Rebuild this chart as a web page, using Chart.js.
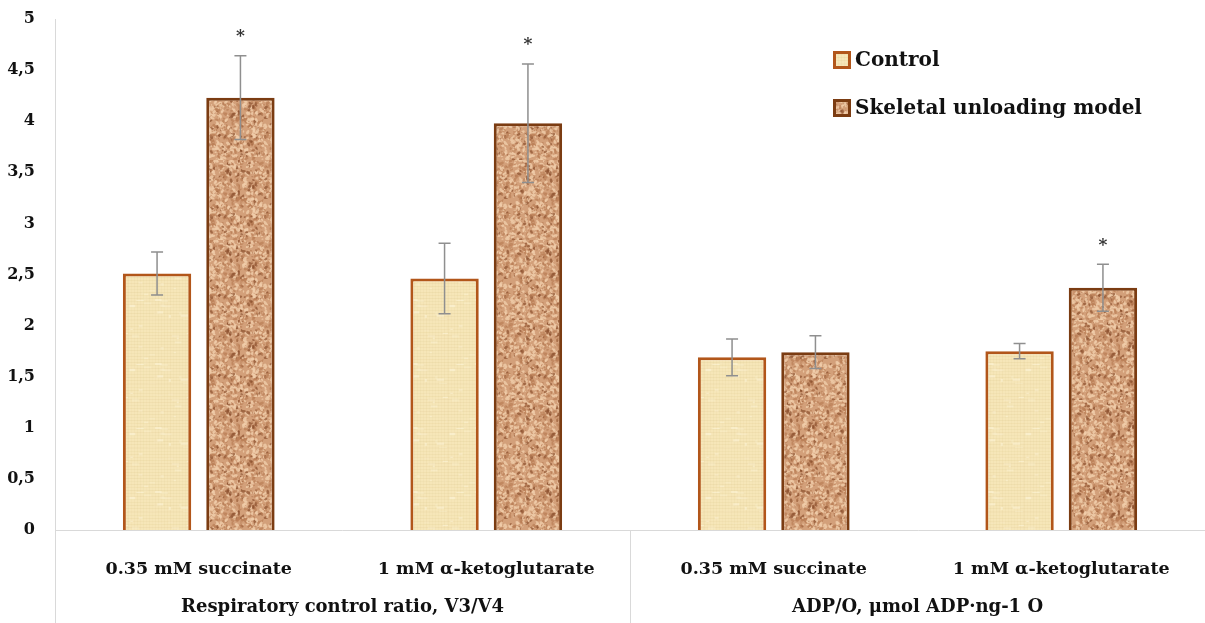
<!DOCTYPE html>
<html>
<head>
<meta charset="utf-8">
<script src="https://cdn.jsdelivr.net/npm/chart.js@4.4.0/dist/chart.umd.min.js"></script>
<style>
html, body { margin: 0; padding: 0; background: #fff; }
#wrap { width: 1205px; height: 623px; position: relative; }
</style>
</head>
<body>
<div id="wrap"><canvas id="myChart"></canvas></div>
<script>
'use strict';

var categories = ['0.35 mM succinate', '1 mM α-ketoglutarate', '0.35 mM succinate', '1 mM α-ketoglutarate'];
var groupNames = ['Respiratory control ratio, V3/V4', 'ADP/O, μmol ADP·ng-1 O'];
var seriesNames = ['Control', 'Skeletal unloading model'];
var controlValues = [2.51, 2.46, 1.69, 1.75];
var controlErrors = [0.21, 0.345, 0.18, 0.075];
var unloadingValues = [4.23, 3.98, 1.74, 2.37];
var unloadingErrors = [0.41, 0.58, 0.16, 0.23];
var unloadingSignificant = [true, true, false, true];
var yMax = 5;
var yStep = 0.5;

var FONT = '"DejaVu Serif", "Liberation Serif", serif';

(function () {

    // small seeded generator, only used for the bar textures
    function makeRand(seed) {
        var s = seed;
        return function () {
            s = (s * 16807) % 2147483647;
            return (s - 1) / 2147483646;
        };
    }

    function papyrusPattern() {
        var c = document.createElement('canvas');
        c.width = 64; c.height = 64;
        var g = c.getContext('2d');
        var rnd = makeRand(7);
        var i;
        g.fillStyle = '#f6e6b8';
        g.fillRect(0, 0, 64, 64);
        for (i = 0; i < 64; i += 3) {
            g.fillStyle = 'rgba(205,178,110,' + (0.06 + rnd() * 0.08) + ')';
            g.fillRect(0, i, 64, 1);
            g.fillStyle = 'rgba(210,185,120,' + (0.04 + rnd() * 0.06) + ')';
            g.fillRect(i, 0, 1, 64);
        }
        for (i = 0; i < 40; i++) {
            g.fillStyle = 'rgba(255,248,225,' + (rnd() * 0.5) + ')';
            g.fillRect(rnd() * 64, rnd() * 64, 2 + rnd() * 6, 1 + rnd() * 2);
        }
        return g.createPattern(c, 'repeat');
    }

    function corkPattern() {
        var c = document.createElement('canvas');
        c.width = 80; c.height = 80;
        var g = c.getContext('2d');
        var rnd = makeRand(13);
        var i, x, y, r, t;
        g.fillStyle = '#d3a07a';
        g.fillRect(0, 0, 80, 80);
        for (i = 0; i < 1100; i++) {
            x = rnd() * 80; y = rnd() * 80; r = 0.4 + rnd() * 1.1;
            t = rnd();
            if (t < 0.5) {
                g.fillStyle = 'rgba(240,205,170,0.8)';
            } else if (t < 0.85) {
                g.fillStyle = 'rgba(185,125,85,0.7)';
            } else {
                g.fillStyle = 'rgba(140,80,45,0.7)';
            }
            g.beginPath();
            g.ellipse(x, y, r * 1.7, r, rnd() * 3.14, 0, Math.PI * 2);
            g.fill();
        }
        return g.createPattern(c, 'repeat');
    }

    var errorBarsPlugin = {
        id: 'errorBars',
        afterDatasetsDraw: function (chart) {
            var ctx = chart.ctx;
            var yScale = chart.scales.y;
            var errs = [controlErrors, unloadingErrors];
            var vals = [controlValues, unloadingValues];
            var d, i, bar, top, bottom;
            ctx.save();
            ctx.strokeStyle = '#8f8f8f';
            ctx.lineWidth = 1.5;
            for (d = 0; d < 2; d++) {
                var meta = chart.getDatasetMeta(d);
                for (i = 0; i < meta.data.length; i++) {
                    bar = meta.data[i];
                    top = yScale.getPixelForValue(vals[d][i] + errs[d][i]);
                    bottom = yScale.getPixelForValue(vals[d][i] - errs[d][i]);
                    ctx.beginPath();
                    ctx.moveTo(bar.x, top); ctx.lineTo(bar.x, bottom);
                    ctx.moveTo(bar.x - 6, top); ctx.lineTo(bar.x + 6, top);
                    ctx.moveTo(bar.x - 6, bottom); ctx.lineTo(bar.x + 6, bottom);
                    ctx.stroke();
                    if (d === 1 && unloadingSignificant[i]) {
                        ctx.fillStyle = '#333';
                        ctx.font = 'bold 17px ' + FONT;
                        ctx.textAlign = 'center';
                        ctx.textBaseline = 'middle';
                        ctx.fillText('*', bar.x, top - 19);
                    }
                }
            }
            ctx.restore();
        }
    };

    var axisDecorPlugin = {
        id: 'axisDecor',
        afterDraw: function (chart) {
            var ctx = chart.ctx;
            var area = chart.chartArea;
            var xScale = chart.scales.x;
            var h = chart.height;
            var g, left, right;
            ctx.save();
            ctx.strokeStyle = '#d9d9d9';
            ctx.lineWidth = 1;
            ctx.beginPath();
            ctx.moveTo(area.left + 0.5, area.bottom);
            ctx.lineTo(area.left + 0.5, h);
            var mid = (xScale.getPixelForValue(1) + xScale.getPixelForValue(2)) / 2;
            ctx.moveTo(Math.round(mid) + 0.5, area.bottom);
            ctx.lineTo(Math.round(mid) + 0.5, h);
            ctx.stroke();

            ctx.fillStyle = '#111';
            ctx.font = 'bold 18px ' + FONT;
            ctx.textAlign = 'center';
            ctx.textBaseline = 'middle';
            for (g = 0; g < groupNames.length; g++) {
                left = xScale.getPixelForValue(g * 2);
                right = xScale.getPixelForValue(g * 2 + 1);
                ctx.fillText(groupNames[g], (left + right) / 2, 607);
            }

            // legend
            var items = chart.data.datasets;
            var ly = [60, 108];
            for (g = 0; g < items.length; g++) {
                ctx.fillStyle = items[g].backgroundColor;
                ctx.fillRect(833, ly[g] - 9, 18, 18);
                ctx.strokeStyle = items[g].borderColor;
                ctx.lineWidth = 3;
                ctx.strokeRect(834.5, ly[g] - 7.5, 15, 15);
                ctx.fillStyle = '#111';
                ctx.textAlign = 'left';
                ctx.font = 'bold 20px ' + FONT;
                ctx.fillText(items[g].label, 855, ly[g] + 1);
            }
            ctx.restore();
        }
    };

    function yTickLabel(value) {
        return String(value).replace('.', ',');
    }

    function drawChart() {
        var ctx = document.getElementById('myChart');

        new Chart(ctx, {
            type: 'bar',
            data: {
                labels: categories,
                datasets: [{
                    label: seriesNames[0],
                    data: controlValues,
                    backgroundColor: papyrusPattern(),
                    borderColor: '#b2561a',
                    borderWidth: 3,
                    borderSkipped: 'bottom',
                    categoryPercentage: 0.58,
                    barPercentage: 0.82
                }, {
                    label: seriesNames[1],
                    data: unloadingValues,
                    backgroundColor: corkPattern(),
                    borderColor: '#7b3c12',
                    borderWidth: 3,
                    borderSkipped: 'bottom',
                    categoryPercentage: 0.58,
                    barPercentage: 0.82
                }]
            },
            options: {
                responsive: false,
                animation: false,
                devicePixelRatio: 1,
                layout: { padding: { top: 19, right: 0, bottom: 0, left: 0 } },
                plugins: {
                    legend: { display: false },
                    tooltip: { enabled: false }
                },
                scales: {
                    x: {
                        grid: { display: false },
                        border: { color: '#d9d9d9' },
                        ticks: {
                            color: '#111',
                            font: { family: FONT, size: 17.5, weight: 'bold' },
                            padding: 21,
                            maxRotation: 0,
                            autoSkip: false
                        },
                        afterFit: function (scale) {
                            scale.height = 93;
                            scale.paddingLeft = 0;
                            scale.paddingRight = 0;
                        }
                    },
                    y: {
                        min: 0,
                        max: yMax,
                        grid: { display: false },
                        border: { color: '#d9d9d9' },
                        ticks: {
                            stepSize: yStep,
                            color: '#111',
                            padding: 12,
                            font: { family: FONT, size: 16, weight: 'bold' },
                            callback: yTickLabel
                        },
                        afterFit: function (scale) {
                            scale.width = 55;
                            scale.paddingTop = 0;
                            scale.paddingBottom = 0;
                        }
                    }
                }
            },
            plugins: [errorBarsPlugin, axisDecorPlugin]
        });
    }

    var canvas = document.getElementById('myChart');
    canvas.width = 1205;
    canvas.height = 623;
    drawChart();
})();
</script>
</body>
</html>
